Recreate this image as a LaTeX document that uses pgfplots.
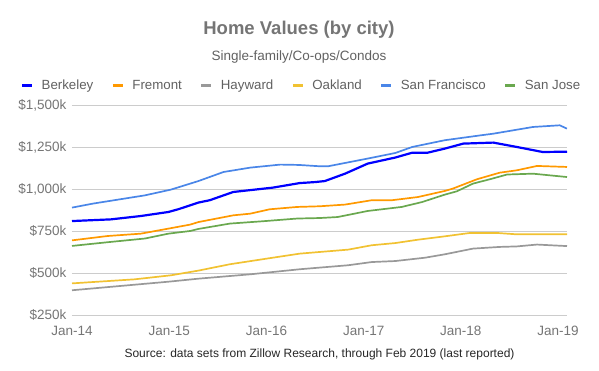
\documentclass[border=0pt]{standalone}
\usepackage{fontspec}
\setmainfont{Liberation Sans}
\usepackage{pgfplots}
\pgfplotsset{compat=1.18}
\definecolor{cBerk}{HTML}{0000FF}
\definecolor{cFre}{HTML}{FF9900}
\definecolor{cHay}{HTML}{999999}
\definecolor{cOak}{HTML}{F1C232}
\definecolor{cSF}{HTML}{4A86E8}
\definecolor{cSJ}{HTML}{6AA84F}
\definecolor{tgray}{HTML}{757575}
\definecolor{lgray}{HTML}{616161}
\definecolor{ggray}{HTML}{CCCCCC}
\begin{document}
\begin{tikzpicture}
\path[use as bounding box] (-72bp,-55.7bp) rectangle (527bp,315.3bp);
\begin{axis}[
 at={(0,0)}, anchor=south west,
 scale only axis, width=495bp, height=210bp,
 xmin=0, xmax=61.1, ymin=250, ymax=1500,
 axis line style={draw=none},
 major tick length=0pt,
 ymajorgrids, grid style={ggray, line width=0.8bp},
 ytick={250,500,750,1000,1250,1500},
 yticklabels={{\$250k},{\$500k},{\$750k},{\$1,000k},{\$1,250k},{\$1,500k}},
 xtick={0,12,24,36,48,60},
 xticklabels={Jan-14,Jan-15,Jan-16,Jan-17,Jan-18,Jan-19},
 ticklabel style={font=\fontsize{13.5bp}{15bp}\selectfont, text=tgray},
 yticklabel style={xshift=-2bp},
 xticklabel style={yshift=-7bp},
 legend columns=6,
 legend style={at={(0.4636,1.092)}, anchor=center, draw=none, fill=none,
   font=\fontsize{13.3bp}{15bp}\selectfont, text=lgray,
   nodes={text height=0.85em, text depth=0.13em},
   /tikz/every odd column/.append style={column sep=6bp},
   /tikz/every even column/.append style={column sep=16bp}},
 legend image code/.code={\draw[#1, line width=3bp] (0bp,0bp) -- (10bp,0bp);},
 every axis plot/.append style={line width=1.7bp, line join=round},
]
\addplot[cBerk, line width=2.2bp] coordinates {(0,811)(4.8,821)(8.5,841)(11.9,865)(13.1,881)(14.6,905)(15.6,921)(17,935)(19.9,984)(24.8,1010)(28.1,1037)(30,1043)(31.2,1049)(33.7,1093)(36.5,1153)(39.9,1189)(42,1218)(43.9,1218)(46,1242)(48.3,1272)(52,1278)(54.9,1252)(58.1,1222)(61.1,1224)};
\addlegendentry{Berkeley}
\addplot[cFre] coordinates {(0,696)(4.4,722)(8.5,736)(11.9,766)(14.6,790)(15.6,805)(19.9,845)(22,855)(24.4,881)(27.8,895)(30.6,899)(33.7,909)(37,935)(39.5,935)(42.7,954)(46,990)(47,1004)(50,1060)(52.8,1099)(54.9,1113)(57.4,1139)(61.1,1133)};
\addlegendentry{Fremont}
\addplot[cHay] coordinates {(0,399)(11.9,450)(15.6,468)(22,494)(28.1,524)(30.6,534)(34.1,548)(37,567)(39.9,573)(43.6,593)(46,613)(49.5,647)(52.8,657)(54.9,660)(57.4,671)(61.1,662)};
\addlegendentry{Hayward}
\addplot[cOak] coordinates {(0,440)(7.7,464)(12.2,488)(15.6,516)(19.5,554)(24.8,593)(28.1,617)(30.6,627)(34.1,641)(37,667)(39.9,680)(42.7,700)(46,720)(49.1,740)(52.5,740)(54.9,732)(61.1,732)};
\addlegendentry{Oakland}
\addplot[cSF] coordinates {(0,891)(2.6,915)(9,964)(12.2,998)(15.6,1049)(18.7,1103)(22,1129)(25.7,1147)(28,1145)(30.6,1137)(31.6,1137)(36.5,1183)(39.9,1216)(42,1252)(46,1292)(50.4,1321)(52,1331)(56.9,1371)(60.2,1381)(61.1,1361)};
\addlegendentry{San Francisco}
\addplot[cSJ] coordinates {(0,663)(4.4,685)(9,707)(11.9,736)(14.6,752)(15.6,764)(19.5,796)(23.6,810)(27.8,826)(30.6,829)(32.8,835)(36.5,871)(40.7,895)(43.2,924)(46,968)(47.5,988)(49.5,1034)(51.6,1060)(53.7,1088)(56.9,1093)(61.1,1073)};
\addlegendentry{San Jose}
\end{axis}
\node[font=\bfseries\fontsize{18.5bp}{20bp}\selectfont, text=tgray] at (227bp,286bp) {Home Values (by city)};
\node[font=\fontsize{13.5bp}{15bp}\selectfont, text=lgray] at (227bp,258.3bp) {Single-family/Co-ops/Condos};
\node[font=\fontsize{12bp}{14bp}\selectfont, text=black!85] at (247.5bp,-39bp) {Source: data sets from Zillow Research, through Feb 2019 (last reported)};
\end{tikzpicture}
\end{document}
